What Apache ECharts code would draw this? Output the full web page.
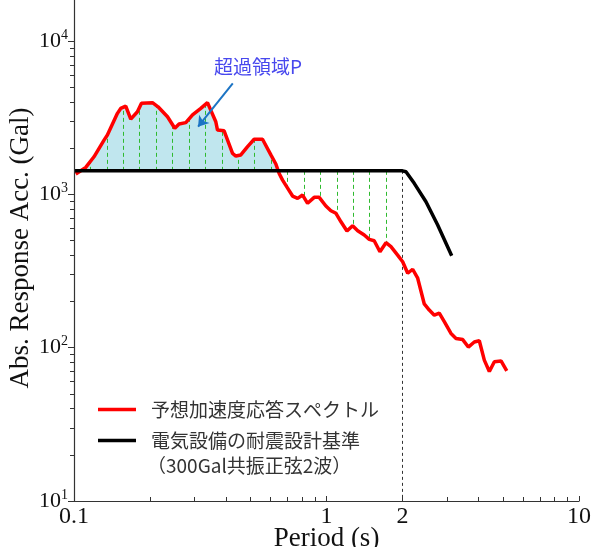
<!DOCTYPE html>
<html>
<head>
<meta charset="utf-8">
<script src="https://cdn.jsdelivr.net/npm/echarts@6/dist/echarts.min.js"></script>
<style>
html, body { margin: 0; padding: 0; background: #fff; }
#chart { width: 593px; height: 547px; }
</style>
</head>
<body>
<div id="chart"></div>
<script>
// 予想加速度応答スペクトル (周期 s, 加速度 Gal)
const specPeriods = [0.1016, 0.1113, 0.1200, 0.1315, 0.1356, 0.1486, 0.1531, 0.1603, 0.1678, 0.1783,
    0.1850, 0.2045, 0.2152, 0.2346, 0.2507, 0.2607, 0.2772, 0.2947, 0.3178, 0.3378,
    0.3644, 0.3701, 0.3931, 0.4245, 0.4375, 0.4578, 0.4868, 0.5170, 0.5580, 0.6021,
    0.6301, 0.6494, 0.6699, 0.7013, 0.7339, 0.7684, 0.8041, 0.8416, 0.8938, 0.9356,
    0.9945, 1.041, 1.090, 1.141, 1.205, 1.269, 1.329, 1.411, 1.477, 1.545,
    1.628, 1.720, 1.800, 1.913, 2.003, 2.097, 2.194, 2.297, 2.439, 2.553,
    2.673, 2.797, 2.928, 3.112, 3.258, 3.463, 3.645, 3.849, 4.029, 4.217,
    4.415, 4.621, 4.912, 5.175]
const specValues = [1360, 1500, 1760, 2260, 2440, 3380, 3640, 3770, 3100, 3460,
    3930, 3970, 3730, 3210, 2700, 2880, 2940, 3300, 3640, 3970,
    2980, 2630, 2600, 1850, 1780, 1810, 2050, 2290, 2290, 1810,
    1580, 1370, 1240, 1100, 976, 943, 991, 875, 957, 957,
    840, 783, 753, 663, 577, 625, 580, 544, 509, 499,
    423, 484, 456, 402, 364, 306, 325, 284, 193, 176,
    163, 168, 148, 124, 115, 113, 101, 109, 111, 83,
    70, 81, 82, 70.5]
// 電気設備の耐震設計基準
const basePeriods = [0.1, 2.0, 2.064, 2.226, 2.477, 2.756, 3.132]
const baseValues = [1425, 1425, 1405, 1181, 896, 632, 398]
const baseLevel = 1425
// 縦の破線 (周期, スペクトル値)
const dropPeriods = [0.1162, 0.1349, 0.1567, 0.1821, 0.2115, 0.2456, 0.2853, 0.3314, 0.3850, 0.4472,
    0.5195, 0.6034, 0.7009, 0.8142, 0.9457, 1.0985, 1.2761, 1.4823, 1.7218]
const dropTops = [1670, 2440, 3730, 3840, 3750, 2790, 3160, 3890, 2610, 1800,
    2290, 1730, 1056, 930, 940, 740, 615, 507, 485]
const cornerPeriod = 2
// 超過領域の矢印
const arrowFrom = [0.4254, 5305]
const arrowTo = [0.310, 2765]
// 目盛
const xLabels = [0.1, 1, 2, 10]
const xMajorTicks = [0.1, 1, 10]
const xMinorTicks = [0.2, 0.3, 0.4, 0.5, 0.6, 0.7, 0.8, 0.9, 2, 3, 4, 5, 6, 7, 8, 9]
const yLabels = [10, 100, 1000, 10000]
const yMinorTicks = [20, 30, 40, 50, 60, 70, 80, 90, 200, 300, 400, 500, 600, 700, 800, 900,
    2000, 3000, 4000, 5000, 6000, 7000, 8000, 9000]

const serif = 'Liberation Serif'
const sans = 'Noto Sans CJK JP'
const axisColor = '#333'

const chart = echarts.init(document.getElementById('chart'), null, {renderer: 'canvas'})

const spec = specPeriods.map((p, i) => [p, specValues[i]])
const base = basePeriods.map((p, i) => [p, baseValues[i]])
const excess = spec.slice(0, 32) //超過している区間
const drops = dropPeriods.map((p, i) => ({coords: [[p, baseLevel], [p, dropTops[i]]]}))

const option = {
    animation: false,
    grid: {left: 74, right: 14, top: -5, bottom: 46, outerBoundsMode: 'none', containLabel: false},
    legend: {
        orient: 'vertical',
        left: 93, top: 395,
        icon: 'rect',
        itemWidth: 38, itemHeight: 3.5, itemGap: 12,
        itemStyle: {borderWidth: 0},
        data: ['予想加速度応答スペクトル', '電気設備の耐震設計基準'],
        textStyle: {fontFamily: sans, fontSize: 19, color: '#333', padding: [0, 0, 0, 10]}
    },
    xAxis: [{
        type: 'log', logBase: 10, min: 0.1, max: 10, position: 'bottom', z: 6,
        axisLine: {lineStyle: {color: axisColor, width: 1.2}},
        axisTick: {inside: true, length: 5, customValues: xMajorTicks, lineStyle: {color: axisColor}},
        axisLabel: {
            customValues: xLabels, margin: 4, color: '#111', fontFamily: serif, fontSize: 24,
            formatter: v => String(+(+v).toPrecision(3))
        },
        splitLine: {show: false},
        name: 'Period (s)', nameLocation: 'middle', nameGap: 24, nameMoveOverlap: false,
        nameTextStyle: {fontFamily: serif, fontSize: 27, color: '#111'}
    }, {
        type: 'log', logBase: 10, min: 0.1, max: 10, position: 'bottom', z: 6,
        axisLine: {show: false},
        axisTick: {inside: true, length: 4, customValues: xMinorTicks, lineStyle: {color: axisColor}},
        axisLabel: {show: false},
        splitLine: {show: false}
    }],
    yAxis: [{
        type: 'log', logBase: 10, min: 10, max: 20000, position: 'left', z: 6,
        axisLine: {lineStyle: {color: axisColor, width: 1.2}},
        axisTick: {length: 6, customValues: yLabels, lineStyle: {color: axisColor}},
        axisLabel: {
            customValues: yLabels, margin: 6, color: '#111', fontFamily: serif, fontSize: 22,
            formatter: v => '10{s|' + Math.round(Math.log10(v)) + '}',
            rich: {s: {fontFamily: serif, fontSize: 14, color: '#111', padding: [0, 0, 12, 0]}}
        },
        splitLine: {show: false},
        name: 'Abs. Response Acc. (Gal)', nameLocation: 'middle', nameGap: 40, nameMoveOverlap: false,
        nameTextStyle: {fontFamily: serif, fontSize: 27, color: '#111'}
    }, {
        type: 'log', logBase: 10, min: 10, max: 20000, position: 'left', z: 6,
        axisLine: {show: false},
        axisTick: {length: 4, customValues: yMinorTicks, lineStyle: {color: axisColor}},
        axisLabel: {show: false},
        splitLine: {show: false}
    }],
    graphic: [
        {type: 'text', left: 214, top: 57, z: 10, style: {text: '超過領域P', font: '19px "' + sans + '"', fill: '#4848ee'}},
        {type: 'text', left: 147, top: 456, z: 10, style: {text: '（300Gal共振正弦2波）', font: '19px "' + sans + '"', fill: '#333'}}
    ],
    series: [{
        type: 'line', data: excess, symbol: 'none', silent: true, z: 1,
        lineStyle: {width: 0},
        areaStyle: {color: '#c0e6ee', opacity: 1, origin: baseLevel}
    }, {
        type: 'lines', coordinateSystem: 'cartesian2d', data: drops, silent: true, z: 3,
        lineStyle: {color: '#2fba2f', width: 1, type: [4, 3], opacity: 1}
    }, {
        type: 'lines', coordinateSystem: 'cartesian2d', silent: true, z: 3,
        data: [{coords: [[cornerPeriod, baseLevel], [cornerPeriod, 10]]}],
        lineStyle: {color: '#333', width: 1, type: [3, 3], opacity: 1}
    }, {
        name: '予想加速度応答スペクトル', type: 'line', data: spec, symbol: 'none', z: 4,
        itemStyle: {color: '#ff0000'},
        lineStyle: {color: '#ff0000', width: 3.5}
    }, {
        name: '電気設備の耐震設計基準', type: 'line', data: base, symbol: 'none', z: 4,
        itemStyle: {color: '#000'},
        lineStyle: {color: '#000', width: 3.5}
    }, {
        type: 'lines', coordinateSystem: 'cartesian2d', silent: true, z: 5,
        symbol: ['none', 'arrow'], symbolSize: 10,
        data: [{coords: [arrowFrom, arrowTo]}],
        lineStyle: {color: '#1c74c4', width: 2, opacity: 1}
    }]
}
chart.setOption(option)
</script>
</body>
</html>
